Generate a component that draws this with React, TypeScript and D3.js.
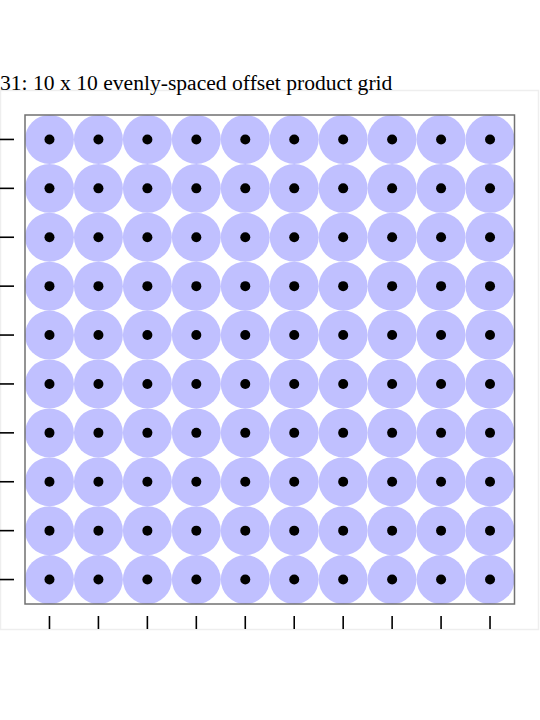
import React from "react";
import { scaleLinear, range } from "d3";

const title = "31: 10 x 10 evenly-spaced offset product grid";
const xValues = range(10).map((i) => i + 0.5);
const yValues = range(10).map((i) => i + 0.5);
const points = xValues.flatMap((x) => yValues.map((y) => ({ x, y })));

export default function App() {
  const W = 540;
  const H = 720;
  const x = scaleLinear().domain([0, 10]).range([25, 514.5]);
  const y = scaleLinear().domain([10, 0]).range([115, 604]);
  const r = (x(1) - x(0)) / 2;

  return (
    <svg
      width={W}
      height={H}
      style={{ position: "absolute", left: 0, top: 0, fontFamily: "Liberation Serif" }}
    >
      <rect x={0.5} y={90.5} width={538} height={539} fill="none" stroke="#eeeeee" strokeWidth={1.5} />
      <text x={0} y={90} fontSize={21.6} fill="#000">
        {title}
      </text>
      {/* halos */}
      {points.map((p, i) => (
        <circle key={"h" + i} cx={x(p.x)} cy={y(p.y)} r={r} fill="#c0c0ff" />
      ))}
      {/* dots */}
      {points.map((p, i) => (
        <circle key={"d" + i} cx={x(p.x)} cy={y(p.y)} r={5} fill="#000" />
      ))}
      <rect
        x={x(0)}
        y={y(10)}
        width={x(10) - x(0)}
        height={y(0) - y(10)}
        fill="none"
        stroke="#707070"
        strokeWidth={1.5}
      />
      {/* y ticks */}
      {yValues.map((v, i) => (
        <line key={"yt" + i} x1={0} x2={14} y1={y(v)} y2={y(v)} stroke="#000" strokeWidth={1.6} />
      ))}
      {/* x ticks */}
      {xValues.map((v, i) => (
        <line key={"xt" + i} x1={x(v)} x2={x(v)} y1={616} y2={629} stroke="#000" strokeWidth={1.6} />
      ))}
    </svg>
  );
}
